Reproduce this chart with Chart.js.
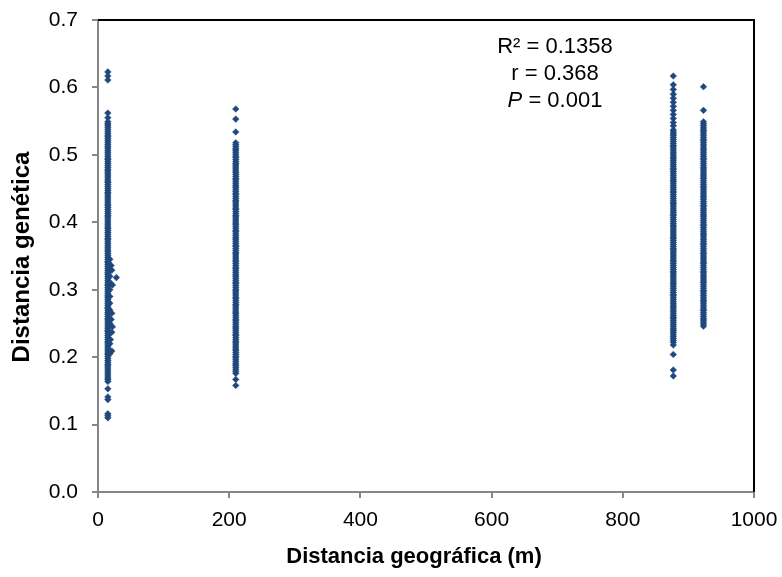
<!DOCTYPE html>
<html>
<head>
<meta charset="utf-8">
<script src="https://cdn.jsdelivr.net/npm/chart.js@4"></script>
<style>
  body { margin: 0; background: #fff; }
  #wrap { width: 782px; height: 577px; }
</style>
</head>
<body>
<div id="wrap"><canvas id="scatterChart"></canvas></div>
<script>
// sampling sites (m) and genetic distances
var siteX = [15, 210, 877, 923];

var gen15 = [0.623, 0.617, 0.611, 0.562, 0.555, 0.549, 0.544, 0.538, 0.532, 0.527, 0.521, 0.515, 0.51, 0.504, 0.498,
  0.493, 0.487, 0.481, 0.476, 0.47, 0.464, 0.459, 0.453, 0.447, 0.442, 0.436, 0.43, 0.425, 0.419, 0.413, 0.408,
  0.402, 0.396, 0.391, 0.385, 0.379, 0.374, 0.368, 0.362, 0.357, 0.351, 0.345, 0.34, 0.334, 0.328, 0.323, 0.317,
  0.311, 0.306, 0.3, 0.294, 0.289, 0.283, 0.277, 0.272, 0.266, 0.26, 0.255, 0.249, 0.243, 0.238, 0.232, 0.226,
  0.221, 0.215, 0.209, 0.204, 0.198, 0.192, 0.187, 0.181, 0.175, 0.169, 0.164, 0.153, 0.141, 0.137, 0.116, 0.113, 0.11];
var gen15b = [0.546, 0.541, 0.535, 0.529, 0.524, 0.518, 0.512, 0.507, 0.501, 0.495, 0.49, 0.484, 0.478, 0.473,
  0.467, 0.461, 0.456, 0.45, 0.444, 0.439, 0.433, 0.427, 0.422, 0.416, 0.41, 0.405, 0.399, 0.393, 0.388, 0.382,
  0.376, 0.371, 0.365, 0.359, 0.354, 0.348, 0.342, 0.337, 0.331, 0.325, 0.32, 0.314, 0.308, 0.303, 0.297, 0.291,
  0.286, 0.28, 0.274, 0.269, 0.263, 0.257, 0.252, 0.246, 0.24, 0.235, 0.229, 0.223, 0.218, 0.212, 0.206, 0.201,
  0.195, 0.189, 0.184, 0.178, 0.172, 0.167];

var gen210 = [0.568, 0.553, 0.534, 0.518, 0.512, 0.507, 0.501, 0.496, 0.49, 0.485, 0.479, 0.474, 0.468, 0.463,
  0.457, 0.452, 0.446, 0.441, 0.435, 0.43, 0.424, 0.419, 0.413, 0.408, 0.402, 0.397, 0.391, 0.386, 0.38, 0.375,
  0.369, 0.364, 0.358, 0.353, 0.347, 0.342, 0.336, 0.331, 0.325, 0.32, 0.314, 0.309, 0.303, 0.298, 0.292, 0.287,
  0.281, 0.276, 0.27, 0.265, 0.259, 0.254, 0.248, 0.243, 0.237, 0.232, 0.226, 0.221, 0.215, 0.21, 0.204, 0.199,
  0.193, 0.188, 0.182, 0.176, 0.167, 0.158];
var gen210b = [0.515, 0.509, 0.504, 0.498, 0.493, 0.487, 0.482, 0.476, 0.471, 0.465, 0.46, 0.454, 0.449, 0.443,
  0.438, 0.432, 0.427, 0.421, 0.416, 0.41, 0.405, 0.399, 0.394, 0.388, 0.383, 0.377, 0.372, 0.366, 0.361, 0.355,
  0.35, 0.344, 0.339, 0.333, 0.328, 0.322, 0.317, 0.311, 0.306, 0.3, 0.295, 0.289, 0.284, 0.278, 0.273, 0.267,
  0.262, 0.256, 0.251, 0.245, 0.24, 0.234, 0.229, 0.223, 0.218, 0.212, 0.207, 0.201, 0.196, 0.19, 0.185, 0.179];

var gen877 = [0.617, 0.604, 0.597, 0.59, 0.584, 0.578, 0.572, 0.566, 0.56, 0.554, 0.548, 0.543, 0.537, 0.531,
  0.526, 0.52, 0.514, 0.509, 0.503, 0.497, 0.492, 0.486, 0.48, 0.475, 0.469, 0.463, 0.458, 0.452, 0.446, 0.441,
  0.435, 0.429, 0.424, 0.418, 0.412, 0.407, 0.401, 0.395, 0.39, 0.384, 0.378, 0.373, 0.367, 0.361, 0.356, 0.35,
  0.344, 0.339, 0.333, 0.327, 0.322, 0.316, 0.31, 0.305, 0.299, 0.293, 0.288, 0.282, 0.276, 0.271, 0.265, 0.259,
  0.254, 0.248, 0.242, 0.237, 0.231, 0.222, 0.218, 0.204, 0.181, 0.172];
var gen877b = [0.534, 0.529, 0.523, 0.517, 0.512, 0.506, 0.5, 0.495, 0.489, 0.483, 0.478, 0.472, 0.466, 0.461,
  0.455, 0.449, 0.444, 0.438, 0.432, 0.427, 0.421, 0.415, 0.41, 0.404, 0.398, 0.393, 0.387, 0.381, 0.376, 0.37,
  0.364, 0.359, 0.353, 0.347, 0.342, 0.336, 0.33, 0.325, 0.319, 0.313, 0.308, 0.302, 0.296, 0.291, 0.285, 0.279,
  0.274, 0.268, 0.262, 0.257, 0.251, 0.245, 0.24, 0.234, 0.228, 0.225];

var gen923 = [0.601, 0.566, 0.549, 0.543, 0.537, 0.532, 0.526, 0.521, 0.515, 0.509, 0.504, 0.498, 0.493, 0.487,
  0.481, 0.476, 0.47, 0.465, 0.459, 0.453, 0.448, 0.442, 0.437, 0.431, 0.425, 0.42, 0.414, 0.409, 0.403, 0.397,
  0.392, 0.386, 0.381, 0.375, 0.369, 0.364, 0.358, 0.353, 0.347, 0.341, 0.336, 0.33, 0.325, 0.319, 0.313, 0.308,
  0.302, 0.297, 0.291, 0.285, 0.28, 0.274, 0.269, 0.263, 0.257, 0.252, 0.246];
var gen923b = [0.546, 0.54, 0.535, 0.529, 0.523, 0.518, 0.512, 0.507, 0.501, 0.495, 0.49, 0.484, 0.479, 0.473,
  0.467, 0.462, 0.456, 0.451, 0.445, 0.439, 0.434, 0.428, 0.423, 0.417, 0.411, 0.406, 0.4, 0.395, 0.389, 0.383,
  0.378, 0.372, 0.367, 0.361, 0.355, 0.35, 0.344, 0.339, 0.333, 0.327, 0.322, 0.316, 0.311, 0.305, 0.299, 0.294,
  0.288, 0.283, 0.277, 0.271, 0.266, 0.26, 0.255, 0.249];

// the few points sitting just right of the first column
var sideX = [18, 18, 18, 18, 18, 18, 18, 18, 18, 18, 18, 20, 21, 19, 22, 21, 20, 22, 21, 19, 21, 28];
var sideY = [0.345, 0.33, 0.32, 0.3, 0.29, 0.28, 0.27, 0.25, 0.235, 0.22, 0.205, 0.336, 0.329, 0.31, 0.307,
  0.265, 0.256, 0.245, 0.237, 0.226, 0.209, 0.318];

var xTicks = [0, 200, 400, 600, 800, 1000];
var yTicks = [0, 0.1, 0.2, 0.3, 0.4, 0.5, 0.6, 0.7];
var statLines = ['R\u00b2 = 0.1358', 'r = 0.368', '0.001'];
var xTitle = 'Distancia geográfica (m)';
var yTitle = 'Distancia genética';

var columns = [[gen15, gen15b], [gen210, gen210b], [gen877, gen877b], [gen923, gen923b]];
var points = [];
columns.forEach(function (lists, i) {
  lists.forEach(function (list) {
    list.forEach(function (v) { points.push({x: siteX[i], y: v}); });
  });
});
for (var i = 0; i < sideX.length; i++) {
  points.push({x: sideX[i], y: sideY[i]});
}

var fontFam = "'Liberation Sans', Arial, sans-serif";
var axisGray = '#868686';
var markBlue = '#1F497D';

function noEdgePadding(s) {
  s.paddingTop = 0;
  s.paddingBottom = 0;
  s.paddingLeft = 0;
  s.paddingRight = 0;
}

var framePlugin = {
  id: 'frame',
  afterDraw: function (chart) {
    var c = chart.ctx, a = chart.chartArea;
    c.save();
    c.strokeStyle = '#000';
    c.lineWidth = 2;
    c.beginPath();
    c.moveTo(a.left, a.top);
    c.lineTo(a.right, a.top);
    c.lineTo(a.right, a.bottom);
    c.stroke();

    // axis titles
    c.fillStyle = '#000';
    c.textBaseline = 'middle';
    c.textAlign = 'center';
    c.font = 'bold 22px ' + fontFam;
    c.fillText(xTitle, 414, 557);
    c.save();
    c.translate(22, 257);
    c.rotate(-Math.PI / 2);
    c.font = 'bold 24px ' + fontFam;
    c.fillText(yTitle, 0, 0);
    c.restore();

    // stats text
    c.font = '22px ' + fontFam;
    var cx = 555;
    c.fillText(statLines[0], cx, 47);
    c.fillText(statLines[1], cx, 74);
    c.font = 'italic 22px ' + fontFam;
    var wP = c.measureText('P').width;
    c.font = '22px ' + fontFam;
    var rest = ' = ' + statLines[2];
    var wR = c.measureText(rest).width;
    var x0 = cx - (wP + wR) / 2;
    c.textAlign = 'left';
    c.font = 'italic 22px ' + fontFam;
    c.fillText('P', x0, 101);
    c.font = '22px ' + fontFam;
    c.fillText(rest, x0 + wP, 101);
    c.restore();
  }
};

var ctx = document.getElementById('scatterChart');
var chart = new Chart(ctx, {
  type: 'scatter',
  data: {
    datasets: [{
      data: points,
      pointStyle: 'rectRot',
      pointRadius: 3.3,
      pointHoverRadius: 3.3,
      backgroundColor: markBlue,
      borderColor: markBlue,
      borderWidth: 0.5
    }]
  },
  options: {
    responsive: true,
    maintainAspectRatio: false,
    animation: false,
    events: [],
    layout: { autoPadding: false, padding: { top: 20, right: 28, left: 0, bottom: 0 } },
    plugins: { legend: { display: false }, tooltip: { enabled: false } },
    scales: {
      x: {
        type: 'linear',
        min: 0,
        max: 1000,
        afterFit: function (s) { s.height = 85; noEdgePadding(s); },
        afterBuildTicks: function (s) { s.ticks = xTicks.map(function (v) { return {value: v}; }); },
        grid: { drawOnChartArea: false, drawTicks: true, tickLength: 6, color: axisGray, lineWidth: 2 },
        border: { display: true, color: axisGray, width: 2 },
        ticks: { color: '#000', padding: 10, font: { family: fontFam, size: 21 }, maxRotation: 0,
          callback: function (v) { return String(v); } },
        title: { display: false }
      },
      y: {
        type: 'linear',
        min: 0,
        max: 0.7,
        afterFit: function (s) { s.width = 98; noEdgePadding(s); },
        afterBuildTicks: function (s) { s.ticks = yTicks.map(function (v) { return {value: v}; }); },
        grid: { drawOnChartArea: false, drawTicks: true, tickLength: 6, color: axisGray, lineWidth: 2 },
        border: { display: true, color: axisGray, width: 2 },
        ticks: { color: '#000', padding: 14, font: { family: fontFam, size: 21 },
          callback: function (v) { return v.toFixed(1); } },
        title: { display: false }
      }
    }
  },
  plugins: [framePlugin]
});
</script>
</body>
</html>
